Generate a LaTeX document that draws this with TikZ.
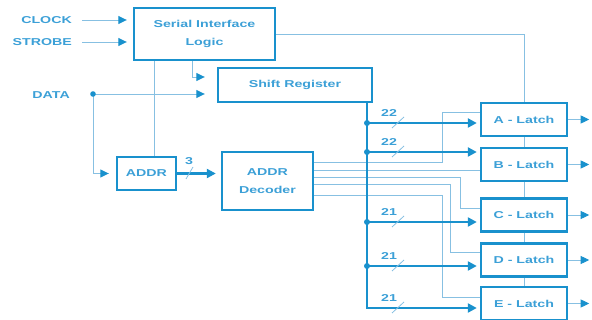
\documentclass[tikz,border=0pt]{standalone}
\usepackage{fontspec}
\setmainfont{Liberation Sans}
\newfontfamily\lblfont[FakeStretch=1.42]{Liberation Sans}
\usetikzlibrary{arrows.meta,calc}
\definecolor{bx}{RGB}{25,145,205}
\definecolor{tx}{RGB}{60,160,215}
\definecolor{thn}{RGB}{135,192,226}
\tikzset{
  txtfont/.style={font=\lblfont\bfseries\fontsize{10}{18}\selectfont},
  box/.style={draw=bx, line width=2.4pt, fill=white, inner sep=0pt, text=tx, txtfont, align=center},
  latch/.style={box, minimum width=86pt, minimum height=33pt},
  lbl/.style={text=tx, txtfont, inner sep=0pt},
  thinl/.style={draw=thn, line width=0.9pt},
  bus/.style={draw=bx, line width=2.4pt},
  arrt/.style={-{Triangle[length=8.5pt,width=8pt,color=bx]}},
  arrb/.style={-{Triangle[length=9pt,width=9pt,color=bx]}},
  slash/.style={draw=thn, line width=0.8pt}
}
\begin{document}
\begin{tikzpicture}[x=1pt,y=-1pt]
\useasboundingbox (0,0) rectangle (592,320);

% blocks
\node[box, minimum width=141pt, minimum height=52pt] (sil) at (204.5,34) {Serial Interface\\Logic};
\node[box, minimum width=154pt, minimum height=34pt] (sr) at (295,85) {Shift Register};
\node[box, minimum width=59pt, minimum height=33pt] (addr) at (146.5,173.5) {ADDR};
\node[box, minimum width=91pt, minimum height=58pt] (dec) at (267.5,181) {ADDR\\Decoder};
\node[latch] (A) at (524,119.5) {A - Latch};
\node[latch] (B) at (524,164.5) {B - Latch};
\node[latch] (C) at (524,215) {C - Latch};
\node[latch] (D) at (524,260) {D - Latch};
\node[latch] (E) at (524,303.5) {E - Latch};

% input labels
\node[lbl, anchor=east] (clock) at (72,20) {CLOCK};
\node[lbl, anchor=east] (strobe) at (72,42) {STROBE};
\node[lbl, anchor=east] (data) at (70,95) {DATA};

\coordinate (busx) at (367,0);
\coordinate (dd) at (93,94);

% clock / strobe
\draw[thinl, arrt, shorten >=6pt] ([xshift=10pt]clock.east) -- (sil.west |- clock.east);
\draw[thinl, arrt, shorten >=6pt] ([xshift=10pt]strobe.east) -- (sil.west |- strobe.east);

% SIL to shift register and ADDR
\draw[thinl, arrt, shorten >=12pt] (sil.south -| 192,0) |- (sr.west |- 0,77);
\draw[thinl] (sil.south -| 154,0) -- (addr.north -| 154,0);

% data
\draw[thinl, arrt, shorten >=12pt] (dd) -- (sr.west |- dd);
\draw[thinl, arrt, shorten >=7pt] (dd) |- (addr.west);
\fill[bx] (dd) circle (2.8pt);

% SIL clock line through latches
\draw[thinl] (sil.east) -| (A.north);
\draw[thinl] (A.south) -- (B.north);
\draw[thinl] (B.south) -- (C.north);
\draw[thinl] (C.south) -- (D.north);
\draw[thinl] (D.south) -- (E.north);

% ADDR to decoder
\draw[bus, arrb, shorten >=5pt] (addr.east) -- (dec.west |- addr.east);
\node[lbl] (n3) at (189,161) {3};
\draw[slash] (186,179) -- (193,167);

% decoder select lines
\draw[thinl] (dec.east |- 0,162) -| (442,112) -- (A.west |- 0,112);
\draw[thinl] (dec.east |- 0,170) -- (B.west |- 0,170);
\draw[thinl] (dec.east |- 0,177) -| (460,208) -- (C.west |- 0,208);
\draw[thinl] (dec.east |- 0,184) -| (450,252) -- (D.west |- 0,252);
\draw[thinl] (dec.east |- 0,195) -| (442,297) -- (E.west |- 0,297);

% data bus
\draw[bus, arrb, shorten >=3pt] (sr.south -| busx) |- (E.west |- 0,308);
\draw[bus, arrb, shorten >=3pt] (busx |- 0,123) -- (A.west |- 0,123);
\draw[bus, arrb, shorten >=3pt] (busx |- 0,152) -- (B.west |- 0,152);
\draw[bus, arrb, shorten >=3pt] (busx |- 0,222) -- (C.west |- 0,222);
\draw[bus, arrb, shorten >=3pt] (busx |- 0,266) -- (D.west |- 0,266);
\foreach \y in {123,152,222,266} { \fill[bx] (busx |- 0,\y) circle (3pt); }
\foreach \y/\t/\n in {123/22/a,152/22/b,222/21/c,266/21/d,308/21/e} {
  \node[lbl] (bl\n) at (389,\y-10) {\t};
  \draw[slash] (392,\y+5) -- (404,\y-6);
}

% outputs
\draw[thinl, arrt] (A.east) -- ++(21,0);
\draw[thinl, arrt] (B.east) -- ++(21,0);
\draw[thinl, arrt] (C.east) -- ++(21,0);
\draw[thinl, arrt] (D.east) -- ++(21,0);
\draw[thinl, arrt] (E.east) -- ++(21,0);
\end{tikzpicture}
\end{document}
